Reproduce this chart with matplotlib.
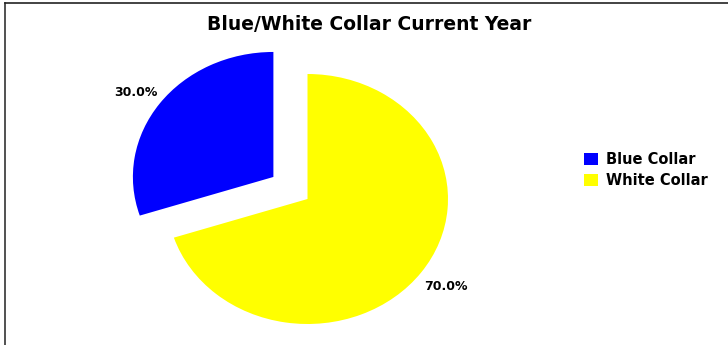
import matplotlib
matplotlib.use("Agg")
import matplotlib.pyplot as plt
from matplotlib.patches import Patch
from matplotlib.lines import Line2D
import matplotlib.transforms as mtransforms

categories = ["White Collar", "Blue Collar"]
values = [70.0, 30.0]
colors = ["#FFFF00", "#0000FF"]
explode = [0.0, 0.3]
legend_order = ["Blue Collar", "White Collar"]
legend_colors = ["#0000FF", "#FFFF00"]
title = "Blue/White Collar Current Year"

plt.rcParams['font.family'] = ['DejaVu Sans']

W, H = 728, 345
fig = plt.figure(figsize=(W / 100, H / 100), dpi=100)

# pie geometry in pixels (from top-left)
cx, cy = 307.5, 199.0
rx, ry = 140.5, 125.0
xl, yl = 1.4, 1.3
left = (cx - rx * xl) / W
width = 2 * rx * xl / W
bottom = ((H - cy) - ry * yl) / H
height = 2 * ry * yl / H
ax = fig.add_axes([left, bottom, width, height])

wedges, texts, autotexts = ax.pie(values, colors=colors, explode=explode,
                                  startangle=90, counterclock=False,
                                  autopct='%1.1f%%', pctdistance=1.21,
                                  wedgeprops=dict(linewidth=0),
                                  textprops=dict(fontsize=9, fontweight='bold', color='black'))
ax.set_aspect('auto')
ax.set_xlim(-xl, xl)
ax.set_ylim(-yl, yl)
ax.axis('off')
for w in wedges:
    w.set_clip_on(False)
# nudge label positions slightly (pixels)
autotexts[1].set_transform(ax.transData + mtransforms.ScaledTranslation(0, -4 / 100, fig.dpi_scale_trans))
autotexts[0].set_transform(ax.transData + mtransforms.ScaledTranslation(1 / 100, 1 / 100, fig.dpi_scale_trans))

fig.text(369 / W, 1 - 25 / H, title, ha='center', va='center',
         fontsize=13.5, fontweight='bold')

handles = [Patch(facecolor=c, edgecolor='none') for c in legend_colors]
leg = fig.legend(handles, legend_order, loc='upper left',
                 bbox_to_anchor=(578 / W, 1 - 146 / H), frameon=False,
                 prop=dict(size=10.5, weight='bold'),
                 handlelength=1.0, handleheight=0.9, handletextpad=0.5,
                 labelspacing=0.4, borderaxespad=0)

# border
fig.add_artist(Line2D([5 / W, 5 / W], [0, 1 - 3 / H], color='#333333', lw=1.2, transform=fig.transFigure))
fig.add_artist(Line2D([5 / W, 1], [1 - 3 / H, 1 - 3 / H], color='#222222', lw=1.2, transform=fig.transFigure))

fig.savefig("out.png", dpi=100, facecolor='white')
